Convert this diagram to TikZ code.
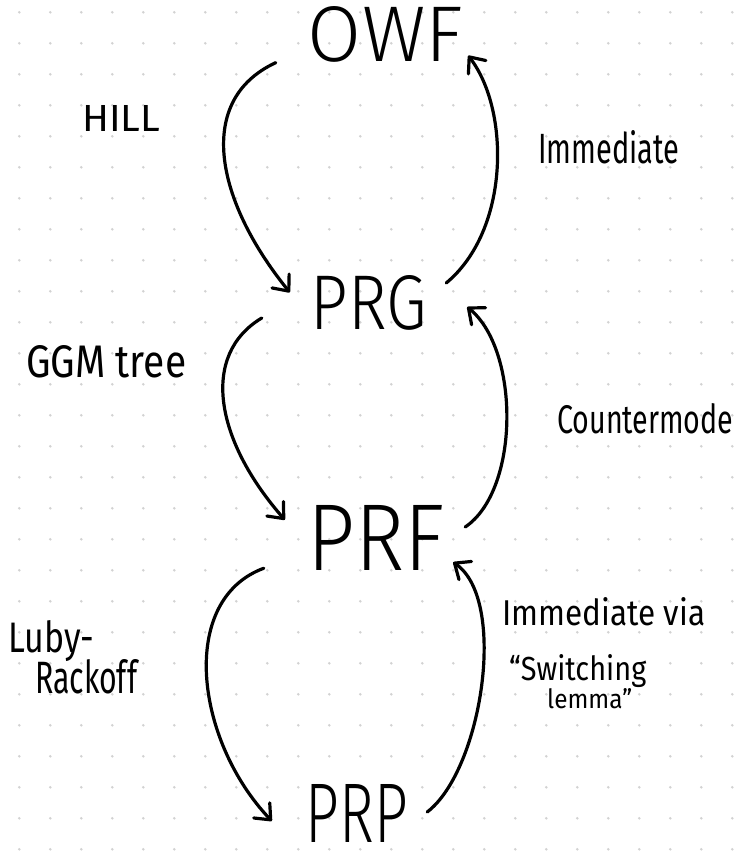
\documentclass[tikz,border=0pt]{standalone}
\usepackage{fontspec}
\setmainfont{Fira Sans Light}
\newfontfamily\lblfont{Fira Sans}
\usetikzlibrary{arrows.meta}
\definecolor{dotc}{HTML}{D2D2D2}
\tikzset{
  big/.style={inner sep=0pt, text=black},
  lbl/.style={inner sep=0pt, text=black, anchor=base west, font=\lblfont},
  conn/.style={line width=3.2pt, line cap=round, black,
    -{Straight Barb[length=13pt,width=22pt,round]}}
}
\begin{document}
\begin{tikzpicture}[x=1pt,y=-1pt]
\useasboundingbox (0,0) rectangle (737,854);
\fill[white] (0,0) rectangle (737,854);
\foreach \i in {0,...,23}{
  \foreach \j in {0,...,27}{
    \fill[dotc] (19.3+31*\i,12.3+31*\j) circle (1.4);
  }
}
% main nodes
\node[big] (owf) at (385.5,34.5) {\resizebox{155pt}{55pt}{OWF}};
\node[big] (prg) at (369,303) {\resizebox{116pt}{54pt}{PRG}};
\node[big] (prf) at (376.5,537.5) {\resizebox{137pt}{65pt}{PRF}};
\node[big] (prp) at (357,813) {\resizebox{102pt}{58pt}{PRP}};
% labels
\node[lbl] (hill) at (82,131) {\resizebox{78pt}{26pt}{HILL}};
\node[lbl] (imm) at (538,163) {\resizebox{141pt}{33pt}{Immediate}};
\node[lbl] (ggm) at (26,377) {\resizebox{160pt}{32pt}{GGM tree}};
\node[lbl] (ctr) at (557,433) {\resizebox{176pt}{30pt}{Countermode}};
\node[lbl] (luby) at (8,652) {\resizebox{86pt}{32pt}{Luby-}};
\node[lbl] (rack) at (35,693) {\resizebox{102pt}{34pt}{Rackoff}};
\node[lbl] (immvia) at (502,625) {\resizebox{203pt}{28pt}{Immediate via}};
\node[lbl] (sw) at (509,680) {\resizebox{137pt}{26pt}{“Switching}};
\node[lbl] (lem) at (547,708) {\resizebox{85pt}{20pt}{lemma”}};
% connectors
\draw[conn] ([shift={(-32,0)}]owf.south west) .. controls (195,100) and (215,200) .. ([shift={(-21,17)}]prg.north west);
\draw[conn] ([shift={(19,-20)}]prg.east) .. controls (510,230) and (510,110) .. ([shift={(5,-7)}]owf.south east);
\draw[conn] ([shift={(-49,15)}]prg.west) .. controls (200,355) and (215,440) .. ([shift={(-23,15)}]prf.north west);
\draw[conn] ([shift={(20,-10.5)}]prf.east) .. controls (520,490) and (520,350) .. ([shift={(40,4)}]prg.east);
\draw[conn] ([shift={(-44,-2)}]prf.south west) .. controls (178,600) and (195,740) .. ([shift={(-34,8)}]prp.west);
\draw[conn] ([shift={(19,-1)}]prp.east) .. controls (482,770) and (508,600) .. ([shift={(8,-8)}]prf.south east);
\end{tikzpicture}
\end{document}
